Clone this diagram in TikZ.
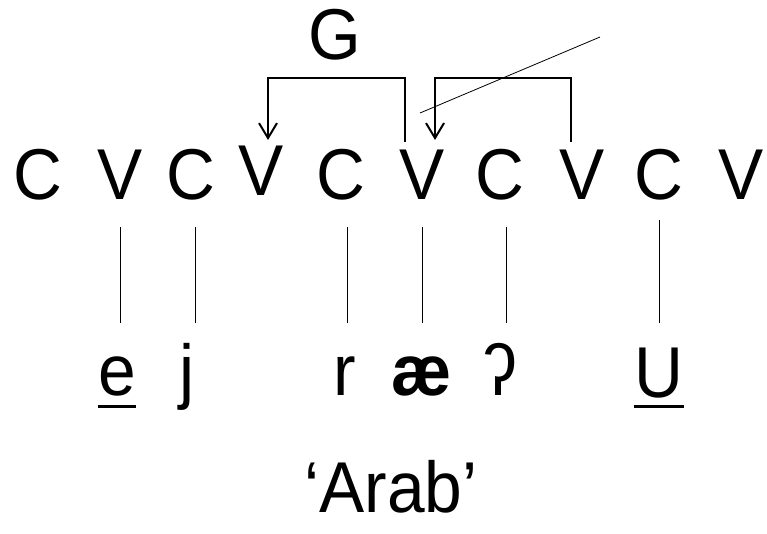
\documentclass[tikz,border=0pt]{standalone}
\usepackage{fontspec}
\setmainfont{Liberation Sans}
\newfontfamily\segfont[FakeStretch=0.94]{Liberation Sans}
\usepackage{tikz}
\usetikzlibrary{arrows.meta,calc,positioning}

\begin{document}
\begin{tikzpicture}[%
x=1pt, y=-1pt,
>={Straight Barb[length=15pt,width=18pt]},
seg/.style={inner sep=0pt, anchor=base, text height=50pt, text depth=0pt,
  font=\segfont\fontsize{72}{86}\selectfont},
assoc/.style={line width=0.8pt, shorten <=27pt, shorten >=22pt},
brk/.style={line width=2pt, ->},
uline/.style={line width=3pt}
]
\useasboundingbox (0,0) rectangle (767,534);

% skeleton
\node[seg] (c1) at (38,200) {C};
\node[seg] (v2) at (120,200) {V};
\node[seg] (c3) at (191,200) {C};
\node[seg] (v4) at (261,196) {V};
\node[seg] (c5) at (341,200) {C};
\node[seg] (v6) at (422,200) {V};
\node[seg] (c7) at (500,200) {C};
\node[seg] (v8) at (582,200) {V};
\node[seg] (c9) at (659,200) {C};
\node[seg] (v10) at (741,200) {V};

% melody
\node[seg] (e) at (117,395) {e};
\node[seg] (j) at (187,395) {j};
\node[seg] (r) at (345,395) {r};
\node[seg] (ae) at (422,395) {\textbf{æ}};
\node[seg] (q) at (500,395) {ʔ};
\node[seg] (u) at (659,397) {U};

\node[seg] (g) at (335,60) {G};
\node[seg] (gloss) at (391,512) {‘Arab’};

% association lines
\draw[assoc] (v2.south) -- (v2.south |- e.north);
\draw[assoc] ([xshift=4pt]c3.south) -- ([xshift=4pt]c3.south |- j.north);
\draw[assoc] ([xshift=6pt]c5.south) -- ([xshift=6pt]c5.south |- r.north);
\draw[assoc] (v6.south) -- (v6.south |- ae.north);
\draw[assoc] ([xshift=6pt]c7.south) -- ([xshift=6pt]c7.south |- q.north);
\draw[assoc, shorten <=20pt, shorten >=24pt] (c9.south) -- (c9.south |- u.north);

\draw[uline] ([yshift=-11pt]e.base west) -- ([yshift=-11pt]e.base east);
\draw[uline] ([yshift=-9pt]u.base west) -- ([yshift=-9pt]u.base east);

% spreading
\coordinate (lsrc) at (405,142);
\coordinate (ltop) at (336,78);
\coordinate (ltgt) at (268,140);
\coordinate (rsrc) at (571,142);
\coordinate (rtop) at (503,78);
\coordinate (rtgt) at (435,140);
\draw[brk] (lsrc) |- (ltop) -| (ltgt);
\draw[brk] (rsrc) |- (rtop) -| (rtgt);

% delinking
\coordinate (d1) at (420,113);
\coordinate (d2) at (600,37);
\draw[line width=0.8pt] (d1) -- (d2);
\end{tikzpicture}
\end{document}
